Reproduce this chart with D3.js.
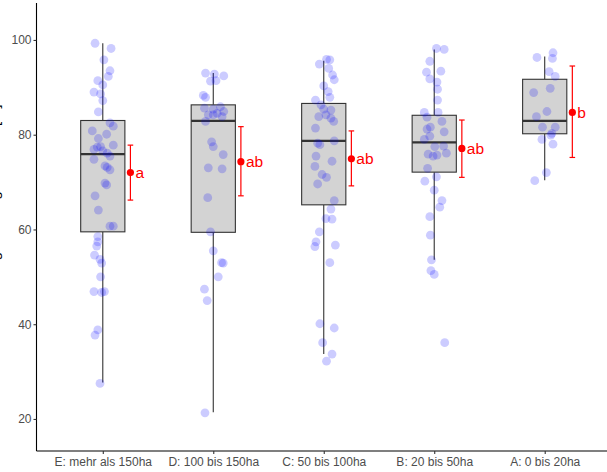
<!DOCTYPE html>
<html>
<head>
<meta charset="utf-8">
<script src="https://cdn.jsdelivr.net/npm/d3@7"></script>
<style>
  body { margin: 0; background: #fff; }
  svg { display: block; font-family: "Liberation Sans", Arial, sans-serif; }
</style>
</head>
<body>
<div id="chart"></div>
<script>
// categories and summary statistics
const categories = ["E: mehr als 150ha", "D: 100 bis 150ha", "C: 50 bis 100ha", "B: 20 bis 50ha", "A: 0 bis 20ha"];
const whiskerLow  = [27.7, 21.4, 33.7, 53.6, 70.4];
const q1          = [59.5, 59.4, 65.2, 72.1, 80.2];
const median      = [75.9, 82.9, 78.7, 78.4, 82.9];
const q3          = [83.0, 86.3, 86.6, 84.1, 91.7];
const whiskerHigh = [99.3, 93.0, 95.6, 98.0, 96.5];
const means       = [72.0, 74.3, 74.9, 77.1, 84.7];
const ciLow       = [66.2, 67.1, 69.2, 71.0, 75.2];
const ciHigh      = [77.8, 81.7, 80.8, 83.1, 94.5];
const letters     = ["a", "ab", "ab", "ab", "b"];
const yTicks      = [20, 40, 60, 80, 100];

// jittered raw observations: [value, jitter offset in category units]
const pointsE = [[99.3,-.07],[98.2,.075],[95.8,.01],[93.5,.065],[92.3,.05],[91.4,-.045],[90.5,0],[89.0,-.08],[88.6,-.02],[87.2,0],
  [84.8,-.04],[82.5,.065],[81.8,.095],[80.8,-.095],[80.1,.035],[79.2,-.04],[77.8,.095],[76.9,-.08],[77.4,-.05],[77.5,-.02],
  [76.6,0],[76.1,.04],[75.5,.065],[74.8,-.08],[73.4,.02],[73.1,.04],[72.6,.065],[69.8,.02],[69.4,.035],[67.1,-.07],
  [64.1,-.04],[60.7,.065],[60.7,.095],[58.5,-.045],[57.4,-.045],[56.5,-.055],[54.6,-.075],[53.7,-.025],[52.9,-.01],[50.0,-.02],
  [46.9,-.08],[46.7,-.01],[46.9,.015],[38.8,-.045],[37.7,-.07],[27.5,-.025]];
const pointsD = [[93.0,-.07],[92.8,.01],[92.4,.095],[91.3,-.025],[91.4,.025],[88.3,-.09],[87.9,-.07],[85.6,-.08],[85.4,0],[85.9,.065],
  [84.9,.095],[84.5,.035],[84.2,-.045],[83.8,.08],[84.2,0],[82.8,-.07],[78.5,-.015],[77.5,0],[75.8,.09],[73.0,-.045],
  [72.8,.08],[66.7,-.05],[59.5,-.025],[55.5,0],[53.0,.075],[52.9,.09],[50.0,.045],[47.4,-.08],[45.0,-.055],[21.3,-.075]];
const pointsC = [[94.9,-.04],[95.9,.025],[95.8,.055],[94.0,.045],[92.6,.08],[91.6,.095],[90.3,0],[89.1,.04],[87.9,.055],[87.3,-.075],
  [86.3,-.025],[85.4,0],[85.2,.065],[83.8,-.045],[84.2,.02],[83.5,.065],[82.8,.09],[81.4,-.075],[78.2,-.055],[77.9,-.035],
  [78.7,.095],[75.5,-.07],[74.4,.075],[73.3,-.08],[71.6,-.015],[71.0,.025],[69.6,-.055],[66.1,.095],[64.3,.065],[62.3,.02],
  [62.2,.075],[59.5,-.04],[57.4,-.07],[56.4,-.08],[56.7,.105],[53.0,.055],[40.1,-.035],[39.2,.095],[36.1,-.01],[33.7,.075],[32.2,.025]];
const pointsB = [[98.2,.02],[98.0,.09],[95.5,-.04],[93.2,-.07],[93.4,.06],[91.8,-.04],[91.1,.025],[89.6,.03],[87.3,.03],[84.7,.035],
  [84.7,-.09],[83.7,-.065],[82.8,.07],[81.2,-.065],[81.6,-.035],[80.6,.09],[79.7,-.04],[79.0,-.09],[77.5,.005],[77.6,.085],
  [75.9,-.055],[75.5,-.01],[75.7,.025],[76.1,.11],[72.9,-.06],[71.1,.02],[70.2,-.085],[68.3,0],[66.1,.07],[64.7,.05],
  [62.7,-.04],[58.8,-.035],[53.6,-.025],[51.3,-.03],[50.5,0],[36.1,.095]];
const pointsA = [[96.3,-.07],[97.3,.075],[96.1,.07],[93.3,.04],[92.3,.095],[88.9,-.1],[89.8,.05],[84.9,.02],[83.8,-.075],[81.6,-.02],
  [81.6,.095],[80.3,.065],[79.9,.055],[79.0,-.025],[78.0,.075],[72.0,.015],[70.3,-.09]];
const pointSets = [pointsE, pointsD, pointsC, pointsB, pointsA];

const width = 607, height = 472;
const panel = { left: 36.5, right: 611, top: 3, bottom: 451 };

const svg = d3.select("#chart").append("svg")
  .attr("width", width)
  .attr("height", height);

const x = d3.scalePoint()
  .domain(categories)
  .range([panel.left, panel.right])
  .padding(0.6);
const step = x.step();

const y = d3.scaleLinear()
  .domain([13.24, 107.8])
  .range([panel.bottom, panel.top]);

const boxWidth = 0.4 * step;
const errOffset = 0.25 * step;

// y axis title, cut by the left edge as in the original export
svg.append("text")
  .attr("transform", `translate(-0.6, 214) rotate(-90)`)
  .attr("text-anchor", "middle")
  .style("font-size", "15px")
  .style("fill", "#000")
  .text("Bewertung Leistung Standort [%]");

// boxes
const boxes = svg.append("g").attr("class", "boxes")
  .selectAll("g")
  .data(categories)
  .enter().append("g");

boxes.append("line")
  .attr("x1", d => x(d)).attr("x2", d => x(d))
  .attr("y1", (d, i) => y(whiskerHigh[i])).attr("y2", (d, i) => y(q3[i]))
  .style("stroke", "#333").style("stroke-width", 1.1);
boxes.append("line")
  .attr("x1", d => x(d)).attr("x2", d => x(d))
  .attr("y1", (d, i) => y(q1[i])).attr("y2", (d, i) => y(whiskerLow[i]))
  .style("stroke", "#333").style("stroke-width", 1.1);
boxes.append("rect")
  .attr("x", d => x(d) - boxWidth / 2)
  .attr("width", boxWidth)
  .attr("y", (d, i) => y(q3[i]))
  .attr("height", (d, i) => y(q1[i]) - y(q3[i]))
  .style("fill", "#d3d3d3")
  .style("stroke", "#333")
  .style("stroke-width", 1.1);
boxes.append("line")
  .attr("x1", d => x(d) - boxWidth / 2).attr("x2", d => x(d) + boxWidth / 2)
  .attr("y1", (d, i) => y(median[i])).attr("y2", (d, i) => y(median[i]))
  .style("stroke", "#333").style("stroke-width", 2.2);

// jittered points
const flatPoints = pointSets.flatMap((pts, i) => pts.map(p => ({ cat: categories[i], v: p[0], j: p[1] })));
svg.append("g").attr("class", "points")
  .selectAll("circle")
  .data(flatPoints)
  .enter().append("circle")
    .attr("cx", d => x(d.cat) + d.j * step)
    .attr("cy", d => y(d.v))
    .attr("r", 4.4)
    .style("fill", "#0000ff")
    .style("fill-opacity", 0.2);

// mean +- error bars
const err = svg.append("g").attr("class", "errorbars")
  .selectAll("g")
  .data(categories)
  .enter().append("g")
    .attr("transform", d => `translate(${x(d) + errOffset},0)`);

err.append("line")
  .attr("y1", (d, i) => y(ciLow[i])).attr("y2", (d, i) => y(ciHigh[i]))
  .style("stroke", "red").style("stroke-width", 1.2);
err.append("line")
  .attr("x1", -2.8).attr("x2", 2.8)
  .attr("y1", (d, i) => y(ciLow[i])).attr("y2", (d, i) => y(ciLow[i]))
  .style("stroke", "red").style("stroke-width", 1.2);
err.append("line")
  .attr("x1", -2.8).attr("x2", 2.8)
  .attr("y1", (d, i) => y(ciHigh[i])).attr("y2", (d, i) => y(ciHigh[i]))
  .style("stroke", "red").style("stroke-width", 1.2);
err.append("circle")
  .attr("cy", (d, i) => y(means[i]))
  .attr("r", 3.6)
  .style("fill", "red");
err.append("text")
  .attr("x", 5)
  .attr("y", (d, i) => y(means[i]))
  .attr("dy", "0.35em")
  .style("font-size", "15.5px")
  .style("fill", "red")
  .text((d, i) => letters[i]);

// axes
const yAxis = svg.append("g")
  .attr("transform", `translate(${panel.left},0)`)
  .call(d3.axisLeft(y).tickValues(yTicks).tickSize(3).tickPadding(2));
const xAxis = svg.append("g")
  .attr("transform", `translate(0,${panel.bottom})`)
  .call(d3.axisBottom(x).tickSize(3).tickPadding(3));

[yAxis, xAxis].forEach(ax => {
  ax.select(".domain").style("stroke", "#000").style("stroke-width", 1.1);
  ax.selectAll(".tick line").style("stroke", "#333").style("stroke-width", 1.1);
  ax.selectAll(".tick text")
    .style("font-size", "12px")
    .style("fill", "#4d4d4d")
    .style("font-family", "'Liberation Sans', Arial, sans-serif");
});
yAxis.select(".domain").attr("d", `M0,${panel.top}V${panel.bottom}`);
xAxis.select(".domain").attr("d", `M${panel.left},0H${panel.right}`);
</script>
</body>
</html>
